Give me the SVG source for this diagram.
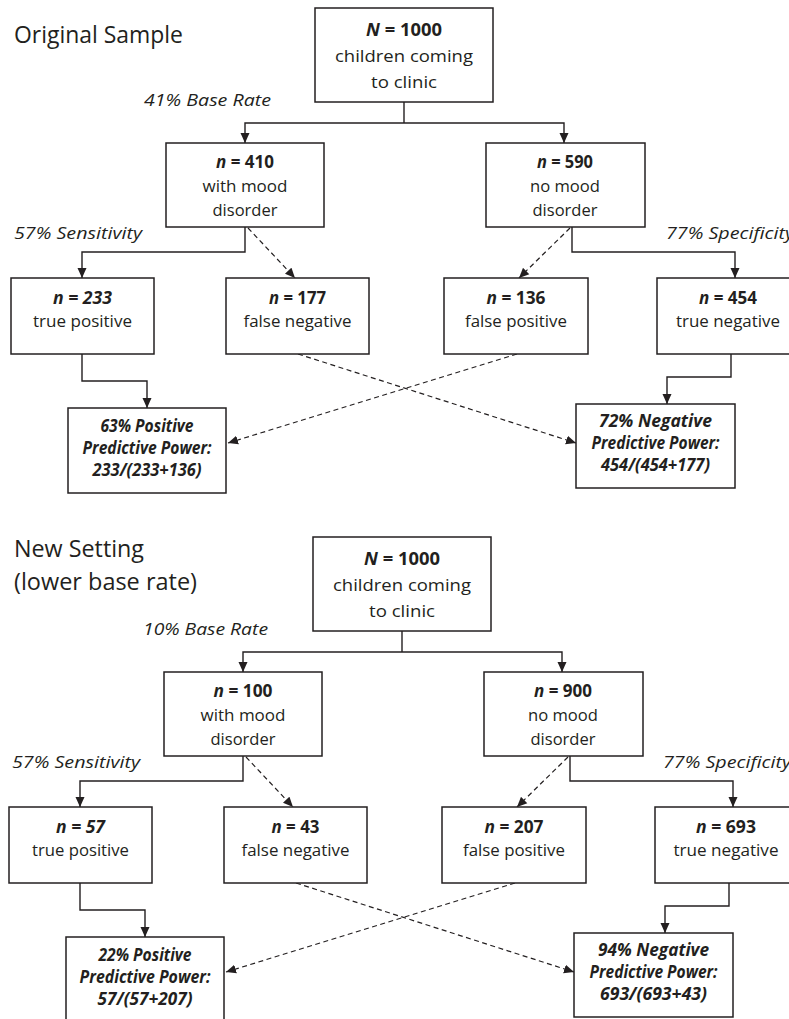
<svg xmlns="http://www.w3.org/2000/svg" width="789" height="1019" viewBox="0 0 789 1019">
<style>
text{font-family:"Open Sans","Noto Sans","DejaVu Sans",sans-serif;fill:#231f20;font-size:17px}
.title{font-size:23px}
.lbl{font-style:italic}
.c{text-anchor:middle}
.b{font-weight:bold}
.bi{font-weight:bold;font-style:italic}
.i{font-style:italic}
.box{fill:#fff;stroke:#231f20;stroke-width:1.5}
.ln{fill:none;stroke:#231f20;stroke-width:1.4}
.dash{fill:none;stroke:#231f20;stroke-width:1.2;stroke-dasharray:5 3.5}
</style>
<defs>
<marker id="ah" markerUnits="userSpaceOnUse" markerWidth="10" markerHeight="10" refX="10" refY="5" orient="auto" viewBox="0 0 10 10">
<path d="M0,0.5 L10,5 L0,9.5 z" fill="#231f20"/>
</marker>
</defs>
<g id="titles">
<text class="title" x="14" y="43" textLength="169" lengthAdjust="spacingAndGlyphs">Original Sample</text>
<text class="title" x="14" y="557" textLength="130" lengthAdjust="spacingAndGlyphs">New Setting</text>
<text class="title" x="14" y="590" textLength="183" lengthAdjust="spacingAndGlyphs">(lower base rate)</text>
</g>

<g id="sample1">
<g id="connectors1">
<path class="ln" d="M404 102 V123"/>
<path class="ln" d="M404 123 H245 V143" marker-end="url(#ah)"/>
<path class="ln" d="M404 123 H564 V143" marker-end="url(#ah)"/>
<path class="ln" d="M245 227 V252 H82 V278" marker-end="url(#ah)"/>
<path class="dash" d="M248 228 L295 278" marker-end="url(#ah)"/>
<path class="ln" d="M572 227 V252 H735 V278" marker-end="url(#ah)"/>
<path class="dash" d="M570 228 L519 278" marker-end="url(#ah)"/>
<path class="ln" d="M82 354 V381 H147 V408" marker-end="url(#ah)"/>
<path class="ln" d="M731 354 V377 H667 V404" marker-end="url(#ah)"/>
<path class="dash" d="M298 354 L576 443" marker-end="url(#ah)"/>
<path class="dash" d="M517 354 L228 443" marker-end="url(#ah)"/>
</g>
<text class="lbl" x="144" y="106" textLength="127" lengthAdjust="spacingAndGlyphs">41% Base Rate</text>
<text class="lbl" x="14" y="239" textLength="128" lengthAdjust="spacingAndGlyphs">57% Sensitivity</text>
<text class="lbl" x="666" y="239" textLength="128" lengthAdjust="spacingAndGlyphs">77% Specificity</text>
<g id="n1000a">
<rect class="box" x="315" y="8" width="178" height="94"/>
<text class="c b" x="404" y="36" textLength="76" lengthAdjust="spacingAndGlyphs"><tspan class="i">N</tspan> = 1000</text>
<text class="c" x="404" y="62" textLength="138" lengthAdjust="spacingAndGlyphs">children coming</text>
<text class="c" x="404" y="88" textLength="66" lengthAdjust="spacingAndGlyphs">to clinic</text>
</g>
<g id="n410">
<rect class="box" x="166" y="143" width="158" height="84"/>
<text class="c b" x="245" y="168" textLength="58" lengthAdjust="spacingAndGlyphs"><tspan class="i">n</tspan> = 410</text>
<text class="c" x="245" y="192" textLength="85" lengthAdjust="spacingAndGlyphs">with mood</text>
<text class="c" x="245" y="216" textLength="65" lengthAdjust="spacingAndGlyphs">disorder</text>
</g>
<g id="n590">
<rect class="box" x="486" y="143" width="159" height="84"/>
<text class="c b" x="565" y="168" textLength="56" lengthAdjust="spacingAndGlyphs"><tspan class="i">n</tspan> = 590</text>
<text class="c" x="565" y="192" textLength="70" lengthAdjust="spacingAndGlyphs">no mood</text>
<text class="c" x="565" y="216" textLength="65" lengthAdjust="spacingAndGlyphs">disorder</text>
</g>
<g id="n233">
<rect class="box" x="11" y="278" width="143" height="76"/>
<text class="c bi" x="82.5" y="304" textLength="59" lengthAdjust="spacingAndGlyphs">n = 233</text>
<text class="c" x="82.5" y="327" textLength="99" lengthAdjust="spacingAndGlyphs">true positive</text>
</g>
<g id="n177">
<rect class="box" x="226" y="278" width="143" height="76"/>
<text class="c b" x="297.5" y="304" textLength="57" lengthAdjust="spacingAndGlyphs"><tspan class="i">n</tspan> = 177</text>
<text class="c" x="297.5" y="327" textLength="108" lengthAdjust="spacingAndGlyphs">false negative</text>
</g>
<g id="n136">
<rect class="box" x="444" y="278" width="144" height="76"/>
<text class="c b" x="516" y="304" textLength="59" lengthAdjust="spacingAndGlyphs"><tspan class="i">n</tspan> = 136</text>
<text class="c" x="516" y="327" textLength="102" lengthAdjust="spacingAndGlyphs">false positive</text>
</g>
<g id="n454">
<rect class="box" x="657" y="278" width="143" height="76"/>
<text class="c b" x="728" y="304" textLength="58" lengthAdjust="spacingAndGlyphs"><tspan class="i">n</tspan> = 454</text>
<text class="c" x="728" y="327" textLength="104" lengthAdjust="spacingAndGlyphs">true negative</text>
</g>
<g id="ppv1">
<rect class="box" x="68" y="408" width="158" height="85"/>
<text class="c bi" x="147" y="432" textLength="93" lengthAdjust="spacingAndGlyphs">63% Positive</text>
<text class="c bi" x="147" y="454" textLength="129" lengthAdjust="spacingAndGlyphs">Predictive Power:</text>
<text class="c bi" x="147" y="476" textLength="109" lengthAdjust="spacingAndGlyphs">233/(233+136)</text>
</g>
<g id="npv1">
<rect class="box" x="576" y="404" width="159" height="84"/>
<text class="c bi" x="655.5" y="427" textLength="113" lengthAdjust="spacingAndGlyphs">72% Negative</text>
<text class="c bi" x="655.5" y="449" textLength="128" lengthAdjust="spacingAndGlyphs">Predictive Power:</text>
<text class="c bi" x="655.5" y="471" textLength="109" lengthAdjust="spacingAndGlyphs">454/(454+177)</text>
</g>
</g>

<g id="sample2" transform="translate(-2,529)">
<g id="connectors2">
<path class="ln" d="M404 102 V123"/>
<path class="ln" d="M404 123 H245 V143" marker-end="url(#ah)"/>
<path class="ln" d="M404 123 H564 V143" marker-end="url(#ah)"/>
<path class="ln" d="M245 227 V252 H82 V278" marker-end="url(#ah)"/>
<path class="dash" d="M248 228 L295 278" marker-end="url(#ah)"/>
<path class="ln" d="M572 227 V252 H735 V278" marker-end="url(#ah)"/>
<path class="dash" d="M570 228 L519 278" marker-end="url(#ah)"/>
<path class="ln" d="M82 354 V381 H147 V408" marker-end="url(#ah)"/>
<path class="ln" d="M731 354 V377 H667 V404" marker-end="url(#ah)"/>
<path class="dash" d="M298 354 L576 443" marker-end="url(#ah)"/>
<path class="dash" d="M517 354 L228 443" marker-end="url(#ah)"/>
</g>
<text class="lbl" x="145" y="106" textLength="125" lengthAdjust="spacingAndGlyphs">10% Base Rate</text>
<text class="lbl" x="14" y="239" textLength="128" lengthAdjust="spacingAndGlyphs">57% Sensitivity</text>
<text class="lbl" x="665" y="239" textLength="128" lengthAdjust="spacingAndGlyphs">77% Specificity</text>
<g id="n1000b">
<rect class="box" x="315" y="8" width="178" height="94"/>
<text class="c b" x="404" y="36" textLength="76" lengthAdjust="spacingAndGlyphs"><tspan class="i">N</tspan> = 1000</text>
<text class="c" x="404" y="62" textLength="138" lengthAdjust="spacingAndGlyphs">children coming</text>
<text class="c" x="404" y="88" textLength="66" lengthAdjust="spacingAndGlyphs">to clinic</text>
</g>
<g id="n100">
<rect class="box" x="166" y="143" width="158" height="84"/>
<text class="c b" x="245" y="168" textLength="59" lengthAdjust="spacingAndGlyphs"><tspan class="i">n</tspan> = 100</text>
<text class="c" x="245" y="192" textLength="85" lengthAdjust="spacingAndGlyphs">with mood</text>
<text class="c" x="245" y="216" textLength="65" lengthAdjust="spacingAndGlyphs">disorder</text>
</g>
<g id="n900">
<rect class="box" x="486" y="143" width="159" height="84"/>
<text class="c b" x="565" y="168" textLength="58" lengthAdjust="spacingAndGlyphs"><tspan class="i">n</tspan> = 900</text>
<text class="c" x="565" y="192" textLength="70" lengthAdjust="spacingAndGlyphs">no mood</text>
<text class="c" x="565" y="216" textLength="65" lengthAdjust="spacingAndGlyphs">disorder</text>
</g>
<g id="n57">
<rect class="box" x="11" y="278" width="143" height="76"/>
<text class="c bi" x="82.5" y="304" textLength="49" lengthAdjust="spacingAndGlyphs">n = 57</text>
<text class="c" x="82.5" y="327" textLength="97" lengthAdjust="spacingAndGlyphs">true positive</text>
</g>
<g id="n43">
<rect class="box" x="226" y="278" width="143" height="76"/>
<text class="c b" x="297.5" y="304" textLength="48" lengthAdjust="spacingAndGlyphs"><tspan class="i">n</tspan> = 43</text>
<text class="c" x="297.5" y="327" textLength="108" lengthAdjust="spacingAndGlyphs">false negative</text>
</g>
<g id="n207">
<rect class="box" x="444" y="278" width="144" height="76"/>
<text class="c b" x="516" y="304" textLength="59" lengthAdjust="spacingAndGlyphs"><tspan class="i">n</tspan> = 207</text>
<text class="c" x="516" y="327" textLength="102" lengthAdjust="spacingAndGlyphs">false positive</text>
</g>
<g id="n693">
<rect class="box" x="657" y="278" width="143" height="76"/>
<text class="c b" x="728" y="304" textLength="60" lengthAdjust="spacingAndGlyphs"><tspan class="i">n</tspan> = 693</text>
<text class="c" x="728" y="327" textLength="105" lengthAdjust="spacingAndGlyphs">true negative</text>
</g>
<g id="ppv2">
<rect class="box" x="68" y="408" width="158" height="85"/>
<text class="c bi" x="147" y="432" textLength="93" lengthAdjust="spacingAndGlyphs">22% Positive</text>
<text class="c bi" x="147" y="454" textLength="131" lengthAdjust="spacingAndGlyphs">Predictive Power:</text>
<text class="c bi" x="147" y="476" textLength="95" lengthAdjust="spacingAndGlyphs">57/(57+207)</text>
</g>
<g id="npv2">
<rect class="box" x="576" y="404" width="159" height="84"/>
<text class="c bi" x="655.5" y="427" textLength="111" lengthAdjust="spacingAndGlyphs">94% Negative</text>
<text class="c bi" x="655.5" y="449" textLength="128" lengthAdjust="spacingAndGlyphs">Predictive Power:</text>
<text class="c bi" x="655.5" y="471" textLength="107" lengthAdjust="spacingAndGlyphs">693/(693+43)</text>
</g>
</g>
</svg>
